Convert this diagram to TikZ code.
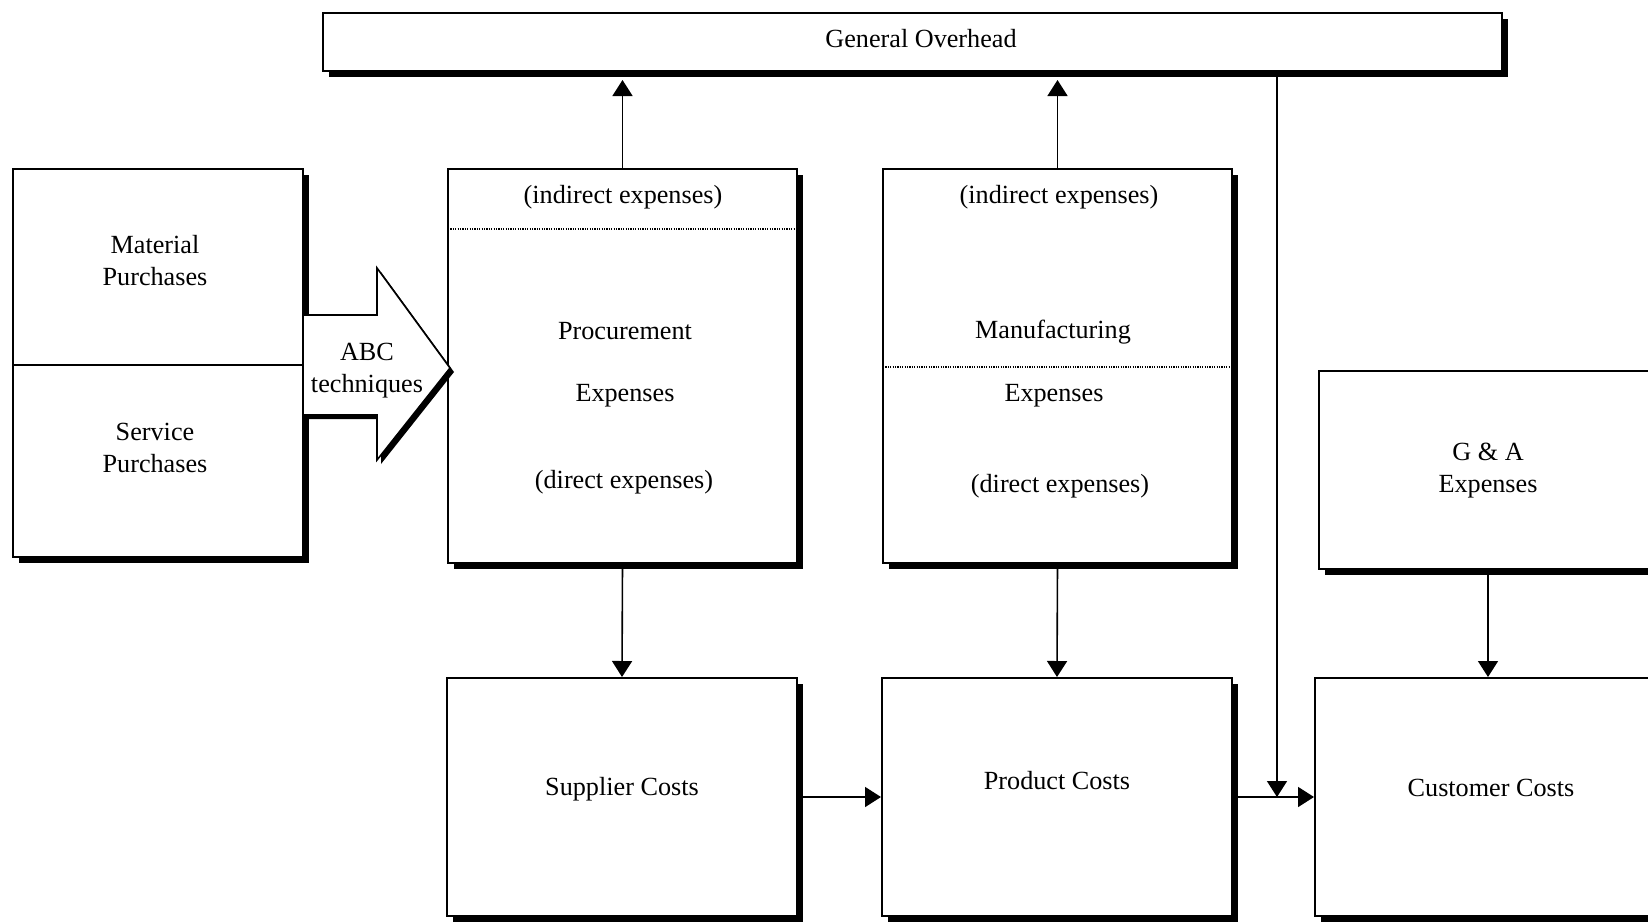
\documentclass[tikz,border=0pt]{standalone}
\usepackage{fontspec}
\setmainfont{Liberation Serif}
\usetikzlibrary{arrows.meta,shadows,calc}
\begin{document}
\begin{tikzpicture}[x=0.5pt,y=-0.5pt,
  box/.style={draw, line width=1pt, fill=white, inner sep=0pt,
    drop shadow={shadow xshift=3pt, shadow yshift=-3pt, fill=black, opacity=1}},
  lbl/.style={font=\fontsize{13.1}{16}\selectfont, align=center, inner sep=0pt},
  link/.style={line width=0.8pt, -{Triangle[length=8pt,width=10pt]}},
  sep/.style={line width=0.7pt, dash pattern=on 0.6pt off 0.6pt}]
\useasboundingbox (0,0) rectangle (1648,921);
\clip (0,0) rectangle (1648,921);

% boxes
\node[box, minimum width=589.5pt, minimum height=29pt] (go) at (912.5,42) {};
\node[box, minimum width=145pt, minimum height=194pt] (pur) at (158,363) {};
\node[box, minimum width=174.5pt, minimum height=197pt] (proc) at (622.5,366) {};
\node[box, minimum width=174.5pt, minimum height=197pt] (manu) at (1057.5,366) {};
\node[box, minimum width=169pt, minimum height=99pt] (ga) at (1488,470) {};
\node[box, minimum width=175pt, minimum height=119pt] (sup) at (622,797) {};
\node[box, minimum width=175pt, minimum height=119pt] (prod) at (1057,797) {};
\node[box, minimum width=173pt, minimum height=119pt] (cus) at (1488,797) {};

% inner dividers
\draw[line width=0.6pt] ([yshift=-1pt]pur.west) -- ([yshift=-1pt]pur.east);
\draw[sep] (448,229) -- (797,229);
\draw[sep] (883,367) -- (1232,367);

% block arrow with its shadow
\fill (307,319) -- (381,319) -- (381,272) -- (454,372) -- (381,464) -- (381,419) -- (307,419) -- cycle;
\draw[line width=0.8pt, fill=white] (303,315) -- (377,315) -- (377,268) -- (450,368) -- (377,460) -- (377,415) -- (303,415) -- cycle;

% labels
\node[lbl] (tgo) at (921,39) {General Overhead};
\node[lbl] (tmat) at (155,261) {Material\\Purchases};
\node[lbl] (tser) at (155,448) {Service\\Purchases};
\node[lbl] (abc) at (367,371) {ABC\\techniques};
\node[lbl] (pind) at (623,197) {(indirect expenses)};
\node[lbl] (pname) at (625,331) {Procurement};
\node[lbl] (pexp) at (625,396) {Expenses};
\node[lbl] (pdir) at (624,482) {(direct expenses)};
\node[lbl] (mind) at (1059,197) {(indirect expenses)};
\node[lbl] (mname) at (1053,332) {Manufacturing};
\node[lbl] (mexp) at (1054,396) {Expenses};
\node[lbl] (mdir) at (1060,486) {(direct expenses)};
\node[lbl] (tga) at (1488,471) {G \& A\\Expenses};
\node[lbl] (tsup) at (622,789) {Supplier Costs};
\node[lbl] (tprod) at (1057,781) {Product Costs};
\node[lbl] (tcus) at (1491,788) {Customer Costs};

% connectors
\coordinate (drop) at (1277,797);
\draw[link] (proc.north) -- ($(proc.north |- go.south)+(0,-4pt)$);
\draw[link] (manu.north) -- ($(manu.north |- go.south)+(0,-4pt)$);
\draw[link] (drop |- go.south) -- (drop);
\draw[link] (proc.south) -- (sup.north);
\draw[link] (manu.south) -- (prod.north);
\draw[link] (ga.south) -- (cus.north);
\draw[link] (sup.east) -- (prod.west);
\draw[link] (prod.east) -- (cus.west);
\end{tikzpicture}
\end{document}
